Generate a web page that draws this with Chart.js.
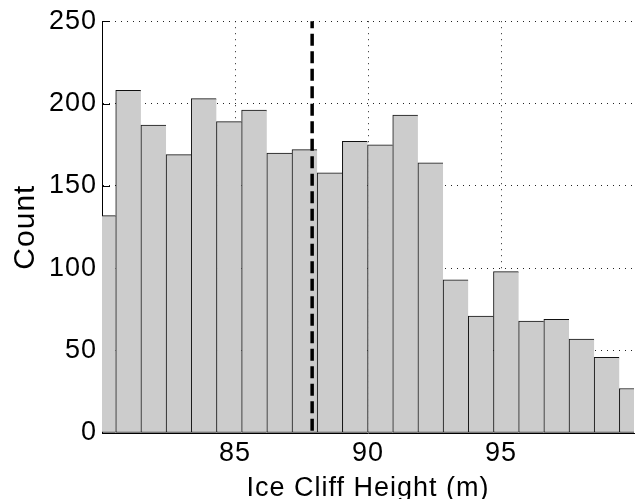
<!DOCTYPE html>
<html>
<head>
<meta charset="utf-8">
<script src="https://cdn.jsdelivr.net/npm/chart.js@4"></script>
<style>
html,body{margin:0;padding:0;background:#fff;}
#wrap{width:636px;height:499px;position:relative;}
</style>
</head>
<body>
<div id="wrap"><canvas id="c" width="636" height="499"></canvas></div>
<script>
// Histogram bin centers (m) and counts
const binCenters = [80.042, 80.989, 81.935, 82.882, 83.829, 84.776, 85.722, 86.669,
                    87.616, 88.562, 89.509, 90.456, 91.403, 92.349, 93.296, 94.243,
                    95.190, 96.136, 97.083, 98.030, 98.976, 99.923];
const counts = [132, 208, 187, 169, 203, 189, 196, 170, 172, 158, 177,
                175, 193, 164, 93, 71, 98, 68, 69, 57, 46, 27];
const xTicks = [85, 90, 95];
const yTicks = [0, 50, 100, 150, 200, 250];
const meanHeight = 87.9;
const xLabel = 'Ice Cliff Height (m)';
const yLabel = 'Count';

const FONT = "'Liberation Sans', Arial, Helvetica, sans-serif";

const letterSpacingPlugin = {
  id: 'letterSpacing',
  beforeDraw(chart) { try { chart.ctx.letterSpacing = '1px'; } catch (e) {} }
};

const inwardTicks = {
  id: 'inwardTicks',
  beforeDatasetsDraw(chart) {
    const { ctx, chartArea: a, scales: { y } } = chart;
    ctx.save();
    ctx.strokeStyle = '#000';
    ctx.lineWidth = 1;
    ctx.setLineDash([]);
    ctx.beginPath();
    yTicks.forEach(v => {
      const py = Math.round(y.getPixelForValue(v)) + 0.5;
      ctx.moveTo(a.left, py);
      ctx.lineTo(a.left + 8, py);
    });
    ctx.stroke();
    ctx.restore();
  }
};

const meanLine = {
  id: 'meanLine',
  afterDatasetsDraw(chart) {
    const { ctx, chartArea: a, scales: { x } } = chart;
    const px = x.getPixelForValue(meanHeight);
    ctx.save();
    ctx.strokeStyle = '#000';
    ctx.lineWidth = 3.5;
    ctx.setLineDash([12, 5.5]);
    ctx.lineDashOffset = 5;
    ctx.beginPath();
    ctx.moveTo(px, a.top);
    ctx.lineTo(px, a.bottom);
    ctx.stroke();
    ctx.restore();
  }
};

new Chart(document.getElementById('c'), {
  type: 'bar',
  data: {
    datasets: [{
      data: binCenters.map((c, i) => ({ x: c, y: counts[i] })),
      backgroundColor: '#cccccc',
      borderColor: '#111',
      borderWidth: { top: 1, left: 1, right: 0, bottom: 1 },
      borderSkipped: false,
      barPercentage: 1,
      categoryPercentage: 1,
      clip: 0
    }]
  },
  options: {
    responsive: false,
    devicePixelRatio: 1,
    animation: false,
    layout: { padding: { top: 21, right: 2, left: 0, bottom: 0 } },
    plugins: { legend: { display: false }, tooltip: { enabled: false } },
    scales: {
      x: {
        type: 'linear',
        offset: false,
        min: 80,
        max: 100,
        afterBuildTicks: s => { s.ticks = xTicks.map(v => ({ value: v })); },
        afterFit: s => { s.height = 66; },
        ticks: { font: { family: FONT, size: 27 }, color: '#000', padding: 4, maxRotation: 0 },
        grid: { color: '#222', lineWidth: 1, drawTicks: false, offset: false },
        border: { display: true, color: '#000', width: 1, dash: [1, 5] },
        title: { display: true, text: xLabel, color: '#000',
                 font: { family: FONT, size: 27, lineHeight: 0.8 }, padding: 0 }
      },
      y: {
        min: 0,
        max: 250,
        afterBuildTicks: s => { s.ticks = yTicks.map(v => ({ value: v })); },
        afterFit: s => { s.width = 102; },
        ticks: { font: { family: FONT, size: 27 }, color: '#000', padding: 5 },
        grid: { color: '#222', lineWidth: 1, drawTicks: false },
        border: { display: true, color: '#000', width: 1, dash: [1, 5] },
        title: { display: true, text: yLabel, color: '#000',
                 font: { family: FONT, size: 30, lineHeight: 1.2 }, padding: { top: 8, bottom: 0 } }
      }
    }
  },
  plugins: [letterSpacingPlugin, inwardTicks, meanLine]
});
</script>
</body>
</html>
